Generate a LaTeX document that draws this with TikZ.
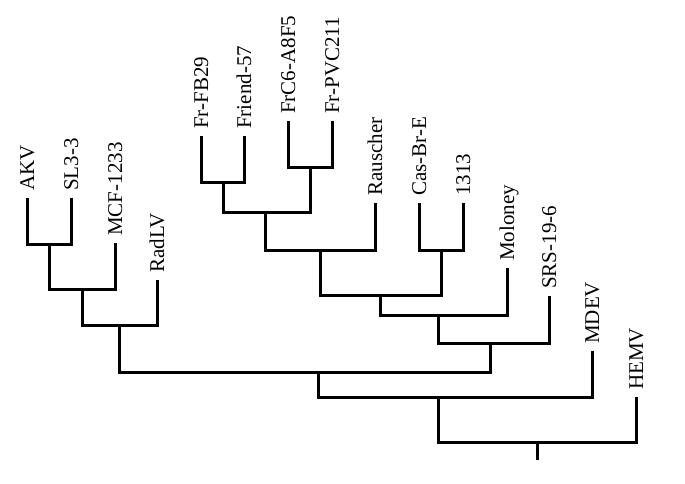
\documentclass[tikz,border=0pt]{standalone}
\usepackage{fontspec}
\setmainfont{Liberation Serif}

\tikzstyle{every node}=[inner sep=0pt]
\tikzstyle{taxon}=[rotate=90, anchor=west, inner xsep=7pt, text height=14pt, text depth=0pt, font=\fontsize{21}{21}\selectfont]
\tikzstyle{branch}=[line width=3pt]

\begin{document}
\begin{tikzpicture}[x=1pt, y=-1pt]
    \useasboundingbox (0,0) rectangle (685,483);

    % leaves
    \node [taxon] (akv)    at (27,198)  {AKV};
    \node [taxon] (sl)     at (71,198)  {SL3-3};
    \node [taxon] (mcf)    at (115,243) {MCF-1233};
    \node [taxon] (radlv)  at (157,280) {RadLV};
    \node [taxon] (fb)     at (201,136) {Fr-FB29};
    \node [taxon] (friend) at (244,136) {Friend-57};
    \node [taxon] (frc)    at (288,121) {FrC6-A8F5};
    \node [taxon] (pvc)    at (332,121) {Fr-PVC211};
    \node [taxon] (rausch) at (375,203) {Rauscher};
    \node [taxon] (cas)    at (419,203) {Cas-Br-E};
    \node [taxon] (tt)     at (463,203) {1313};
    \node [taxon] (molo)   at (507,268) {Moloney};
    \node [taxon] (srs)    at (549,296) {SRS-19-6};
    \node [taxon] (mdev)   at (592,351) {MDEV};
    \node [taxon] (hemv)   at (636,397) {HEMV};

    % joins
    \coordinate (n1) at (49,244);
    \coordinate (n2) at (82,289);
    \coordinate (n3) at (119,325);
    \coordinate (f1) at (223,182);
    \coordinate (f2) at (310,167);
    \coordinate (f3) at (265,212);
    \coordinate (r1) at (320,250);
    \coordinate (c1) at (441,250);
    \coordinate (r2) at (380,295);
    \coordinate (m1) at (438,315);
    \coordinate (s1) at (490,343);
    \coordinate (t1) at (318,372);
    \coordinate (d1) at (438,397);
    \coordinate (root) at (537,442);
    \coordinate (stem) at (537,460);

    \draw [branch] (akv.west) |- (n1) -| (sl.west);
    \draw [branch] (n1) |- (n2) -| (mcf.west);
    \draw [branch] (n2) |- (n3) -| (radlv.west);
    \draw [branch] (fb.west) |- (f1) -| (friend.west);
    \draw [branch] (frc.west) |- (f2) -| (pvc.west);
    \draw [branch] (f1) |- (f3) -| (f2);
    \draw [branch] (f3) |- (r1) -| (rausch.west);
    \draw [branch] (cas.west) |- (c1) -| (tt.west);
    \draw [branch] (r1) |- (r2) -| (c1);
    \draw [branch] (r2) |- (m1) -| (molo.west);
    \draw [branch] (m1) |- (s1) -| (srs.west);
    \draw [branch] (n3) |- (t1) -| (s1);
    \draw [branch] (t1) |- (d1) -| (mdev.west);
    \draw [branch] (d1) |- (root) -| (hemv.west);
    \draw [branch] (root) -- (stem);
\end{tikzpicture}
\end{document}
